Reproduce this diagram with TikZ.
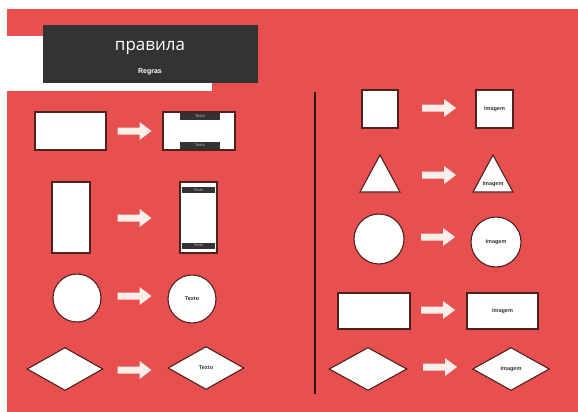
\documentclass[tikz,border=0pt]{standalone}
\usepackage{fontspec}
\setmainfont{Open Sans}
\newfontfamily\lsans{Liberation Sans}
\usetikzlibrary{shapes.geometric}
\definecolor{bgred}{HTML}{E84F4F}
\definecolor{darkbox}{HTML}{333333}
\definecolor{edgec}{HTML}{4E2020}
\definecolor{arrowfill}{HTML}{FCEFEA}
\definecolor{vline}{HTML}{2A1616}
\newcommand\blockarrow[2]{%
  \coordinate (#1) at (#2);
  \fill[arrowfill] ([shift={(-17,-3.5)}]#1) -- ([shift={(5,-3.5)}]#1) -- ([shift={(5,-9)}]#1) -- ([shift={(17,0)}]#1) -- ([shift={(5,9)}]#1) -- ([shift={(5,3.5)}]#1) -- ([shift={(-17,3.5)}]#1) -- cycle;}
\tikzset{
  shp/.style={draw=edgec, fill=white, line width=1.1pt, inner sep=0pt},
  tag/.style={fill=darkbox, text=gray!60, inner sep=0pt, font=\lsans\fontsize{4}{4}\selectfont},
  imgtxt/.style={text=darkbox, font=\lsans\bfseries\fontsize{5.5}{5.5}\selectfont},
  dia/.style={shp, diamond, minimum width=76pt, minimum height=43pt},
}
\begin{document}
\begin{tikzpicture}[x=1pt,y=-1pt]
\useasboundingbox (0,0) rectangle (578,412);
\fill[white] (0,0) rectangle (578,412);
\fill[bgred] (7,9) rectangle (578,412);
\fill[white] (7,36) rectangle (212,91);
\node[fill=darkbox, minimum width=215pt, minimum height=58pt, anchor=north west, inner sep=0pt] (title) at (43,25) {};
\node[text=white, font=\fontsize{17}{17}\selectfont] (t1) at (150,48) {правила};
\node[text=white, font=\lsans\bfseries\fontsize{7}{7}\selectfont] (t2) at (150,72) {Regras};
% left column
\node[shp, minimum width=71pt, minimum height=38pt] (a1) at (70.5,131) {};
\blockarrow{r1}{134.5,131}
\node[shp, minimum width=72pt, minimum height=38pt] (b1) at (199,131) {};
\node[tag, minimum width=40pt, minimum height=7pt] (b1t) at (200,116.5) {Texto};
\node[tag, minimum width=40pt, minimum height=7pt] (b1b) at (200,145) {Texto};
\node[shp, minimum width=38pt, minimum height=71pt] (a2) at (71,217.5) {};
\blockarrow{r2}{134.5,218}
\node[shp, minimum width=37pt, minimum height=71pt] (b2) at (198.5,217.5) {};
\node[tag, minimum width=33pt, minimum height=6pt] (b2t) at (198.5,190) {Texto};
\node[tag, minimum width=33pt, minimum height=6pt] (b2b) at (198.5,245.5) {Texto};
\node[shp, circle, minimum size=48pt] (a3) at (77,298) {};
\blockarrow{r3}{134.5,296}
\node[shp, circle, minimum size=48pt, imgtxt] (b3) at (192,299) {Texto};
\node[dia] (a4) at (65,369) {};
\blockarrow{r4}{134.5,370}
\node[dia, imgtxt] (b4) at (206,368) {Texto};
% divider
\coordinate (vtop) at (315,92);
\coordinate (vbot) at (315,394);
\draw[vline, line width=2.5pt] (vtop) -- (vbot);
% right column
\node[shp, minimum width=36pt, minimum height=38pt] (c1) at (380,109) {};
\blockarrow{s1}{439,108}
\node[shp, minimum width=37pt, minimum height=38pt, imgtxt] (d1) at (494.5,109) {Imagem};
\coordinate (c2a) at (380,155); \coordinate (c2b) at (360,192); \coordinate (c2c) at (400,192);
\draw[draw=edgec, fill=white, line width=1.1pt] (c2a) -- (c2b) -- (c2c) -- cycle;
\blockarrow{s2}{439,175}
\coordinate (d2a) at (493,155); \coordinate (d2b) at (473,192); \coordinate (d2c) at (513,192);
\draw[draw=edgec, fill=white, line width=1.1pt] (d2a) -- (d2b) -- (d2c) -- cycle;
\node[imgtxt] (d2t) at (493,184) {Imagem};
\node[shp, circle, minimum size=50pt] (c3) at (379,239) {};
\blockarrow{s3}{438,237}
\node[shp, circle, minimum size=50pt, imgtxt] (d3) at (496,242) {Imagem};
\node[shp, minimum width=72pt, minimum height=36pt] (c4) at (374,311) {};
\blockarrow{s4}{438,310}
\node[shp, minimum width=71pt, minimum height=36pt, imgtxt] (d4) at (502.5,311) {Imagem};
\node[dia, minimum width=78pt] (c5) at (368,369) {};
\blockarrow{s5}{440,367}
\node[dia, minimum width=77pt, imgtxt] (d5) at (511,369) {Imagem};
\end{tikzpicture}
\end{document}
